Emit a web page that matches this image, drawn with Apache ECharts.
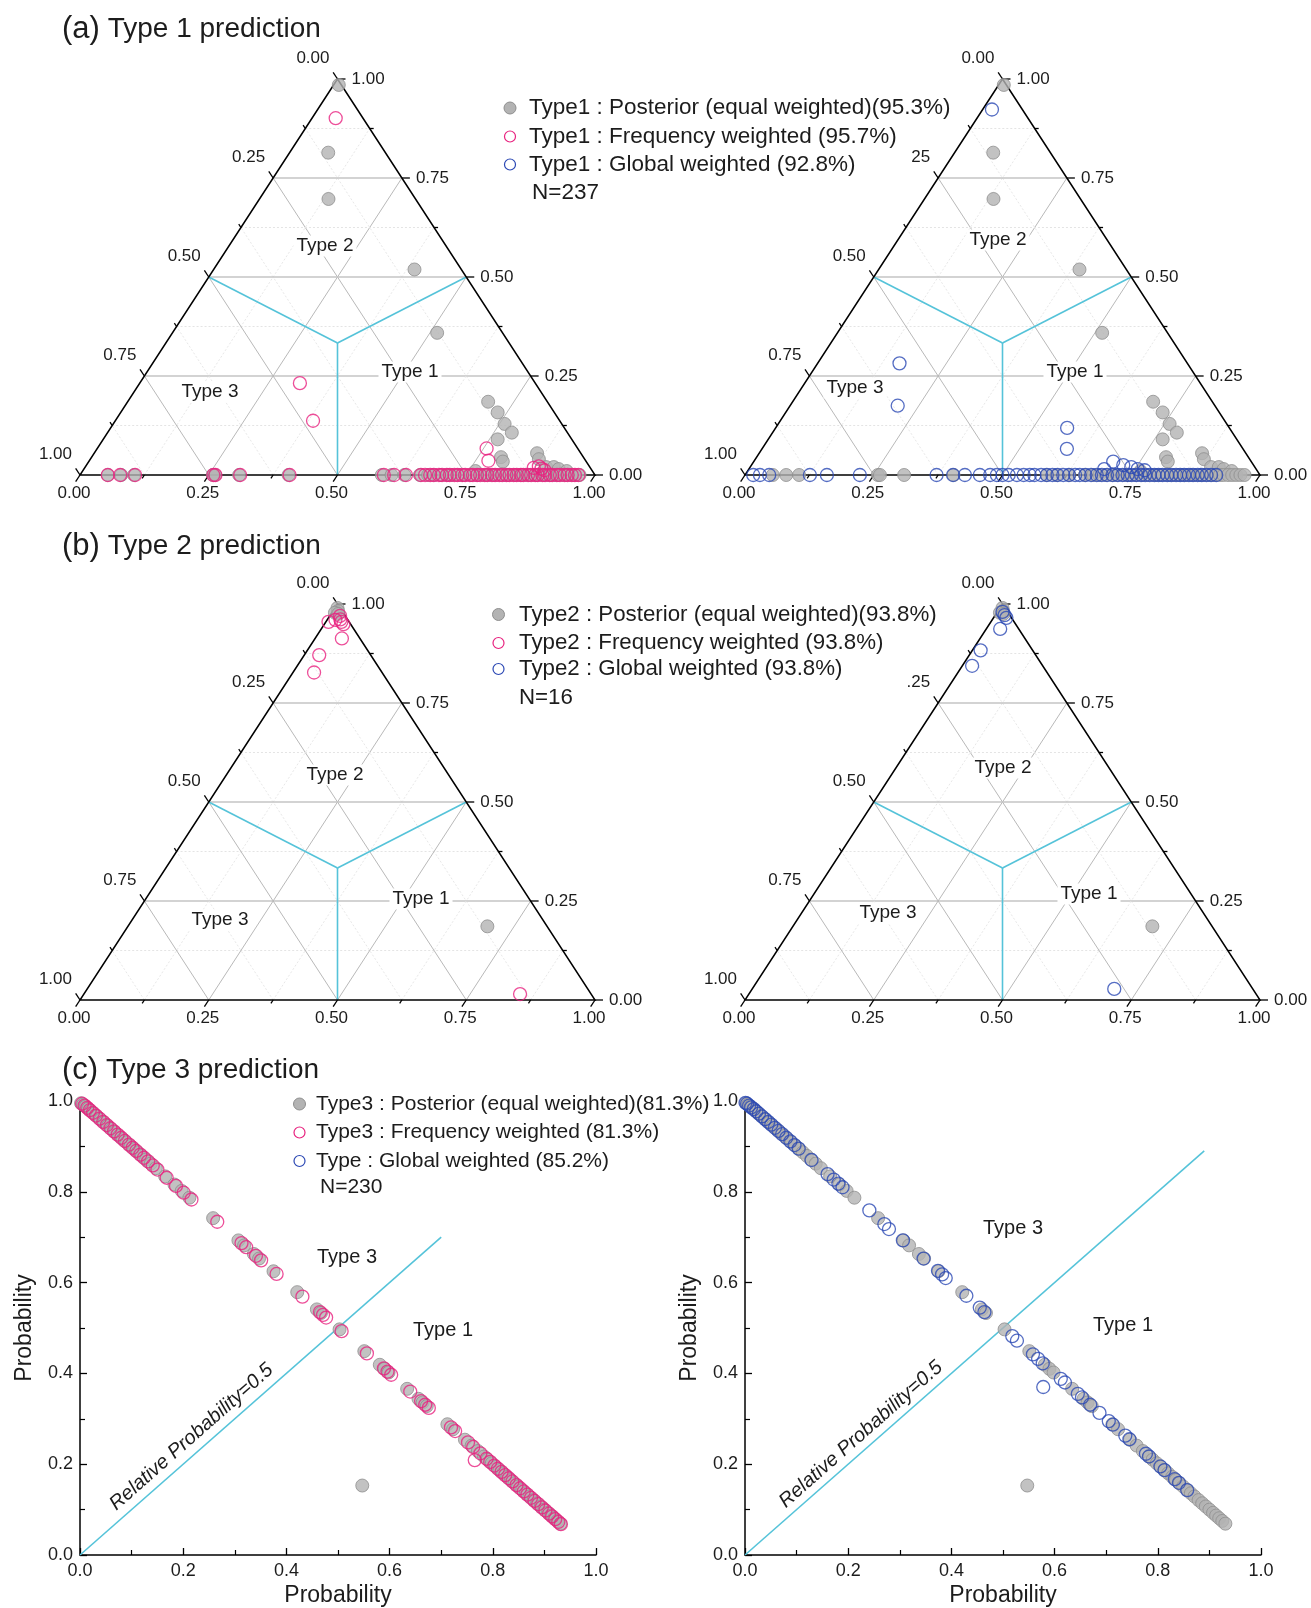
<!DOCTYPE html>
<html>
<head>
<meta charset="utf-8">
<title>Type prediction probabilities</title>
<script src="https://cdn.jsdelivr.net/npm/echarts@6/dist/echarts.min.js"></script>
<style>
  html, body { margin: 0; padding: 0; background: #fff; }
  #chart { width: 1311px; height: 1608px; }
</style>
</head>
<body>
<div id="chart"></div>
<script>
// ---------------------------------------------------------------------------
// Data
// Ternary points are [Type 1, Type 2] probabilities; Type 3 is the remainder.
// ---------------------------------------------------------------------------
const type1Posterior = [
  [0.010, 0.985], [0.075, 0.814], [0.134, 0.697], [0.390, 0.519], [0.514, 0.359],
  [0.700, 0.185], [0.732, 0.158], [0.760, 0.129], [0.785, 0.107], [0.766, 0.090],
  [0.795, 0.045], [0.804, 0.034], [0.860, 0.055], [0.871, 0.040], [0.895, 0.020],
  [0.910, 0.020], [0.763, 0.010], [0.922, 0.015], [0.940, 0.010],
  [0.054, 0], [0.080, 0], [0.105, 0], [0.258, 0], [0.262, 0], [0.309, 0], [0.405, 0],
  [0.586, 0], [0.605, 0], [0.630, 0], [0.660, 0], [0.676, 0], [0.688, 0], [0.701, 0],
  [0.713, 0], [0.722, 0], [0.736, 0], [0.747, 0], [0.759, 0], [0.771, 0], [0.782, 0],
  [0.793, 0], [0.801, 0], [0.809, 0], [0.819, 0], [0.827, 0], [0.834, 0], [0.843, 0],
  [0.851, 0], [0.858, 0], [0.867, 0], [0.874, 0], [0.883, 0], [0.889, 0], [0.898, 0],
  [0.906, 0], [0.913, 0], [0.922, 0], [0.929, 0], [0.938, 0], [0.946, 0], [0.954, 0],
  [0.962, 0], [0.970, 0]
];
const type1Frequency = [
  [0.046, 0.901], [0.311, 0.232], [0.384, 0.137], [0.756, 0.067], [0.775, 0.036],
  [0.872, 0.018], [0.880, 0.022], [0.888, 0.016], [0.896, 0.012],
  [0.054, 0], [0.078, 0], [0.107, 0], [0.259, 0], [0.263, 0], [0.311, 0], [0.407, 0],
  [0.590, 0], [0.610, 0], [0.633, 0], [0.662, 0], [0.670, 0], [0.680, 0], [0.687, 0],
  [0.697, 0], [0.703, 0], [0.712, 0], [0.718, 0], [0.727, 0], [0.733, 0], [0.742, 0],
  [0.748, 0], [0.757, 0], [0.763, 0], [0.771, 0], [0.777, 0], [0.786, 0], [0.791, 0],
  [0.800, 0], [0.806, 0], [0.814, 0], [0.820, 0], [0.828, 0], [0.834, 0], [0.842, 0],
  [0.848, 0], [0.856, 0], [0.861, 0], [0.870, 0], [0.876, 0], [0.884, 0], [0.889, 0],
  [0.898, 0], [0.903, 0], [0.912, 0], [0.917, 0], [0.926, 0], [0.932, 0], [0.941, 0],
  [0.947, 0], [0.955, 0], [0.961, 0], [0.968, 0]
];
const type1Global = [
  [0.018, 0.923], [0.159, 0.282], [0.209, 0.175], [0.566, 0.119], [0.592, 0.066],
  [0.698, 0.034], [0.722, 0.025], [0.740, 0.020], [0.690, 0.015], [0.755, 0.015],
  [0.770, 0.012],
  [0.016, 0], [0.029, 0], [0.047, 0], [0.126, 0], [0.159, 0], [0.223, 0], [0.372, 0],
  [0.404, 0], [0.427, 0], [0.456, 0], [0.476, 0], [0.489, 0], [0.500, 0], [0.512, 0],
  [0.528, 0], [0.541, 0], [0.553, 0], [0.562, 0], [0.575, 0], [0.586, 0], [0.597, 0],
  [0.607, 0], [0.618, 0], [0.629, 0], [0.641, 0], [0.650, 0], [0.661, 0], [0.672, 0],
  [0.683, 0], [0.693, 0], [0.703, 0], [0.714, 0], [0.724, 0], [0.733, 0], [0.743, 0],
  [0.751, 0], [0.760, 0], [0.769, 0], [0.777, 0], [0.786, 0], [0.795, 0], [0.803, 0],
  [0.811, 0], [0.820, 0], [0.828, 0], [0.837, 0], [0.845, 0], [0.853, 0], [0.862, 0],
  [0.870, 0], [0.879, 0], [0.887, 0], [0.896, 0], [0.905, 0], [0.915, 0]
];

const type2Posterior = [
  [0.005, 0.990], [0.010, 0.982], [0.006, 0.978], [0.014, 0.975], [0.698, 0.186]
];
const type2Frequency = [
  [0.016, 0.960], [0.025, 0.961], [0.037, 0.949], [0.005, 0.955], [0.020, 0.970],
  [0.030, 0.955], [0.052, 0.913], [0.029, 0.871], [0.041, 0.827], [0.847, 0.015]
];
const type2Global = [
  [0.010, 0.980], [0.018, 0.972], [0.025, 0.965], [0.027, 0.937], [0.016, 0.883],
  [0.019, 0.844], [0.703, 0.028]
];

// Type 3 points are [Type 1 probability, Type 3 probability]
const type3Posterior = [
  [0.002, 0.995], [0.006, 0.992], [0.011, 0.988], [0.016, 0.983], [0.021, 0.978],
  [0.027, 0.972], [0.033, 0.966], [0.040, 0.959], [0.047, 0.952], [0.054, 0.945],
  [0.061, 0.938], [0.068, 0.931], [0.076, 0.923], [0.083, 0.916], [0.090, 0.909],
  [0.098, 0.901], [0.105, 0.894], [0.112, 0.887], [0.120, 0.879], [0.128, 0.871],
  [0.137, 0.862], [0.147, 0.852], [0.165, 0.834], [0.183, 0.816], [0.197, 0.802],
  [0.212, 0.787], [0.258, 0.742], [0.307, 0.693], [0.318, 0.682], [0.337, 0.663],
  [0.347, 0.653], [0.375, 0.625], [0.421, 0.579], [0.459, 0.541], [0.467, 0.533],
  [0.503, 0.497], [0.551, 0.449], [0.581, 0.419], [0.590, 0.410], [0.598, 0.402],
  [0.634, 0.366], [0.656, 0.344], [0.664, 0.336], [0.672, 0.328], [0.712, 0.288],
  [0.723, 0.277], [0.746, 0.254], [0.759, 0.241], [0.771, 0.229], [0.783, 0.217],
  [0.790, 0.210], [0.798, 0.202], [0.806, 0.194], [0.813, 0.187], [0.820, 0.180],
  [0.828, 0.172], [0.835, 0.165], [0.842, 0.158], [0.849, 0.151], [0.857, 0.143],
  [0.864, 0.136], [0.871, 0.129], [0.879, 0.121], [0.886, 0.114], [0.893, 0.107],
  [0.900, 0.100], [0.907, 0.093], [0.913, 0.087], [0.919, 0.081], [0.925, 0.075],
  [0.931, 0.069], [0.547, 0.153]
];
const type3Frequency = [
  [0.004, 0.994], [0.009, 0.990], [0.014, 0.985], [0.019, 0.980], [0.025, 0.974],
  [0.031, 0.968], [0.038, 0.961], [0.045, 0.954], [0.052, 0.947], [0.059, 0.940],
  [0.066, 0.933], [0.073, 0.926], [0.080, 0.919], [0.087, 0.912], [0.095, 0.904],
  [0.102, 0.897], [0.109, 0.890], [0.117, 0.882], [0.124, 0.875], [0.132, 0.867],
  [0.141, 0.858], [0.150, 0.849], [0.168, 0.831], [0.186, 0.813], [0.201, 0.798],
  [0.216, 0.783], [0.266, 0.734], [0.313, 0.687], [0.322, 0.678], [0.341, 0.659],
  [0.351, 0.649], [0.381, 0.619], [0.431, 0.569], [0.465, 0.535], [0.471, 0.529],
  [0.477, 0.523], [0.507, 0.493], [0.556, 0.444], [0.589, 0.411], [0.596, 0.404],
  [0.603, 0.397], [0.640, 0.360], [0.661, 0.339], [0.669, 0.331], [0.676, 0.324],
  [0.719, 0.281], [0.727, 0.273], [0.752, 0.248], [0.762, 0.238], [0.765, 0.209],
  [0.776, 0.224], [0.788, 0.212], [0.795, 0.205], [0.803, 0.197], [0.810, 0.190],
  [0.817, 0.183], [0.824, 0.176], [0.831, 0.169], [0.838, 0.162], [0.846, 0.154],
  [0.853, 0.147], [0.860, 0.140], [0.867, 0.133], [0.874, 0.126], [0.881, 0.119],
  [0.888, 0.112], [0.895, 0.105], [0.902, 0.098], [0.909, 0.091], [0.915, 0.085],
  [0.921, 0.079], [0.927, 0.073], [0.932, 0.068]
];
const type3Global = [
  [0.001, 0.996], [0.004, 0.994], [0.008, 0.990], [0.012, 0.986], [0.017, 0.982],
  [0.022, 0.977], [0.027, 0.972], [0.033, 0.966], [0.039, 0.960], [0.045, 0.954],
  [0.051, 0.948], [0.058, 0.941], [0.065, 0.934], [0.072, 0.927], [0.080, 0.919],
  [0.088, 0.911], [0.096, 0.903], [0.104, 0.895], [0.129, 0.870], [0.160, 0.839],
  [0.172, 0.827], [0.181, 0.818], [0.189, 0.810], [0.241, 0.759], [0.270, 0.729],
  [0.279, 0.718], [0.306, 0.693], [0.346, 0.653], [0.374, 0.626], [0.382, 0.618],
  [0.389, 0.610], [0.429, 0.571], [0.455, 0.545], [0.464, 0.535], [0.518, 0.482],
  [0.527, 0.472], [0.558, 0.442], [0.568, 0.432], [0.577, 0.422], [0.578, 0.370],
  [0.612, 0.388], [0.620, 0.380], [0.645, 0.355], [0.653, 0.347], [0.669, 0.331],
  [0.687, 0.313], [0.705, 0.295], [0.713, 0.287], [0.737, 0.263], [0.745, 0.255],
  [0.777, 0.223], [0.783, 0.217], [0.805, 0.195], [0.813, 0.187], [0.833, 0.167],
  [0.841, 0.159], [0.857, 0.143]
];

// Ternary axis ticks (labels only on the major ones)
const ternaryTicks = [0, 0.125, 0.25, 0.375, 0.5, 0.625, 0.75, 0.875, 1];
const ternaryTickLabels = ['0.00', '', '0.25', '', '0.50', '', '0.75', '', '1.00'];
// End of the "relative probability = 0.5" boundary in each Type 3 panel
const boundaryEnds = [0.70, 0.89];

// Panel titles, legends and annotation texts
const panelLetters = ['(a)', '(b)', '(c)'];
const panelTitles = ['Type 1 prediction', 'Type 2 prediction', 'Type 3 prediction'];
const legendA = ['Type1 : Posterior (equal weighted)(95.3%)', 'Type1 : Frequency weighted (95.7%)', 'Type1 : Global weighted (92.8%)'];
const legendB = ['Type2 : Posterior (equal weighted)(93.8%)', 'Type2 : Frequency weighted (93.8%)', 'Type2 : Global weighted (93.8%)'];
const legendC = ['Type3 : Posterior (equal weighted)(81.3%)', 'Type3 : Frequency weighted (81.3%)', 'Type : Global weighted (85.2%)'];
const sampleCounts = ['N=237', 'N=16', 'N=230'];
const regionNames = ['Type 1', 'Type 2', 'Type 3'];
const boundaryText = 'Relative Probability=0.5';
const axisName = 'Probability';

// ---------------------------------------------------------------------------
// Layout and styles
// ---------------------------------------------------------------------------
const FONT = '"Liberation Sans", Arial, Helvetica, sans-serif';
const INK = '#1c1c1c';
const GRAY = '#b3b3b3', GRAY_EDGE = '#8e8e8e';
const PINK = '#e8227f', BLUE = '#2b48b4', CYAN = '#55c3d9';

const panels = [
  { left: 80,  top: 79,   width: 515, height: 396 },  // (a) left
  { left: 745, top: 79,   width: 515, height: 396 },  // (a) right
  { left: 80,  top: 604,  width: 515, height: 396 },  // (b) left
  { left: 745, top: 604,  width: 515, height: 396 },  // (b) right
  { left: 80,  top: 1101, width: 516, height: 456 },  // (c) left
  { left: 745, top: 1101, width: 516, height: 456 }   // (c) right
];

const markStyles = {
  gray: { symbolSize: 13, itemStyle: { color: GRAY, borderColor: GRAY_EDGE, borderWidth: 1 } },
  pink: { symbolSize: 13, itemStyle: { color: 'rgba(255,255,255,0)', borderColor: PINK, borderWidth: 1.3 } },
  blue: { symbolSize: 13, itemStyle: { color: 'rgba(255,255,255,0)', borderColor: BLUE, borderWidth: 1.3 } }
};

// [Type1, Type2] -> cartesian position inside the triangle (Type 2 at the apex)
const toTernaryXY = d => [d[0] + d[1] / 2, d[1]];

// Draws the triangle, grid, boundary lines, ticks and tick labels
function renderTernaryFrame(params, api) {
  const idx = params.dataIndex;
  const v = api.value(0);
  const label = ternaryTickLabels[idx];
  const major = label !== '';
  const P = (x, y) => api.coord([x, y]);
  const o = P(0, 0), r = P(1, 0), t = P(0.5, 1);
  const halfW = (r[0] - o[0]) / 2, H = o[1] - t[1];
  const L = Math.hypot(halfW, H);
  const upLeft = [-halfW / L, -H / L];
  const downLeft = [-halfW / L, H / L];
  const kids = [];
  const seg = (a, b, style, z2) => kids.push({
    type: 'line', z2: z2 || 1,
    shape: { x1: a[0], y1: a[1], x2: b[0], y2: b[1] }, style: style
  });

  if (v > 0 && v < 1) {
    const hStyle = major ? { stroke: '#c4c4c4', lineWidth: 1.6 }
                         : { stroke: '#e4e4e4', lineWidth: 1, lineDash: [2, 2] };
    const dStyle = major ? { stroke: '#b9b9b9', lineWidth: 1 }
                         : { stroke: '#e8e8e8', lineWidth: 1, lineDash: [2, 2] };
    seg(P(v / 2, v), P(1 - v / 2, v), hStyle);          // Type 2 = v
    seg(P(v, 0), P((1 + v) / 2, 1 - v), dStyle);        // Type 1 = v
    seg(P(1 - v, 0), P((1 - v) / 2, 1 - v), dStyle);    // Type 3 = v
  }

  const tl = major ? 8 : 4;
  const tickStyle = { stroke: '#000', lineWidth: 1.3 };
  const pb = P(v, 0), pr = P(1 - v / 2, v), pl = P((1 - v) / 2, 1 - v);
  seg(pb, [pb[0] + downLeft[0] * tl, pb[1] + downLeft[1] * tl], tickStyle, 20);
  seg(pl, [pl[0] + upLeft[0] * tl, pl[1] + upLeft[1] * tl], tickStyle, 20);
  seg(pr, [pr[0] + tl, pr[1]], tickStyle, 20);

  if (major) {
    const txt = (x, y, align, va) => kids.push({
      type: 'text', x: x, y: y, z2: 30,
      style: { text: label, fill: INK, font: '17px ' + FONT, align: align, verticalAlign: va }
    });
    txt(pb[0] - 6, pb[1] + 18, 'center', 'middle');
    txt(pl[0] - 8, pl[1] - 12, 'right', 'bottom');
    txt(pr[0] + 14, pr[1], 'left', 'middle');
  }

  if (idx === 0) {
    const c = P(0.5, 1 / 3);
    const cy = { stroke: CYAN, lineWidth: 1.6 };
    seg(c, P(0.5, 0), cy, 10);
    seg(c, P(0.25, 0.5), cy, 10);
    seg(c, P(0.75, 0.5), cy, 10);
    kids.push({
      type: 'polygon', z2: 20,
      shape: { points: [o, r, t] },
      style: { fill: 'none', stroke: '#000', lineWidth: 1.5 }
    });
  }
  return { type: 'group', children: kids };
}

// ---------------------------------------------------------------------------
// Axes
// ---------------------------------------------------------------------------
const grids = panels.map(p => ({ left: p.left, top: p.top, width: p.width, height: p.height }));

function probAxis(gridIndex, isY) {
  return {
    gridIndex: gridIndex, type: 'value', min: 0, max: 1, interval: 0.2,
    axisLine: { show: true, onZero: false, lineStyle: { color: '#000', width: 1.5 } },
    axisTick: { show: true, inside: true, length: 7, lineStyle: { color: '#000', width: 1.3 } },
    minorTick: { show: true, splitNumber: 2, length: 5, lineStyle: { color: '#000', width: 1.2 } },
    axisLabel: { formatter: val => val.toFixed(1), fontSize: 18, color: INK, fontFamily: FONT, margin: 7 },
    splitLine: { show: false },
    name: axisName, nameLocation: 'middle', nameGap: isY ? 44 : 29,
    nameTextStyle: { fontSize: 23, color: INK, fontFamily: FONT }
  };
}
const hiddenAxis = gridIndex => ({ gridIndex: gridIndex, type: 'value', min: 0, max: 1, show: false });

const xAxes = [0, 1, 2, 3].map(hiddenAxis).concat([probAxis(4, false), probAxis(5, false)]);
const yAxes = [0, 1, 2, 3].map(hiddenAxis).concat([probAxis(4, true), probAxis(5, true)]);

// ---------------------------------------------------------------------------
// Series
// ---------------------------------------------------------------------------
const series = [];

function scatter(grid, name, data, style, z) {
  series.push(Object.assign({
    type: 'scatter', name: name, xAxisIndex: grid, yAxisIndex: grid,
    symbol: 'circle', data: data, z: z, clip: false, silent: true
  }, style));
}

const ternarySets = [
  { grid: 0, sets: [[type1Posterior, 'gray', legendA[0]], [type1Frequency, 'pink', legendA[1]]] },
  { grid: 1, sets: [[type1Posterior, 'gray', legendA[0]], [type1Global, 'blue', legendA[2]]] },
  { grid: 2, sets: [[type2Posterior, 'gray', legendB[0]], [type2Frequency, 'pink', legendB[1]]] },
  { grid: 3, sets: [[type2Posterior, 'gray', legendB[0]], [type2Global, 'blue', legendB[2]]] }
];

ternarySets.forEach(panel => {
  series.push({
    type: 'custom', xAxisIndex: panel.grid, yAxisIndex: panel.grid,
    data: ternaryTicks.map((tv, i) => [tv, i]),
    renderItem: renderTernaryFrame, z: 1, silent: true, clip: false
  });
  panel.sets.forEach((s, k) => scatter(panel.grid, s[2], s[0].map(toTernaryXY), markStyles[s[1]], 3 + k));
});

[
  { grid: 4, end: boundaryEnds[0], sets: [[type3Posterior, 'gray', legendC[0]], [type3Frequency, 'pink', legendC[1]]] },
  { grid: 5, end: boundaryEnds[1], sets: [[type3Posterior, 'gray', legendC[0]], [type3Global, 'blue', legendC[2]]] }
].forEach(panel => {
  series.push({
    type: 'line', xAxisIndex: panel.grid, yAxisIndex: panel.grid,
    data: [[0, 0], [panel.end, panel.end]], symbol: 'none', silent: true, z: 2,
    lineStyle: { color: CYAN, width: 1.6 }
  });
  panel.sets.forEach((s, k) => scatter(panel.grid, s[2], s[0], markStyles[s[1]], 3 + k));
});

// ---------------------------------------------------------------------------
// Titles, legends and annotations
// ---------------------------------------------------------------------------
const graphics = [];

[29, 546, 1070].forEach((y, i) => graphics.push({
  type: 'text', x: 62, y: y, z: 60,
  style: {
    text: '{l|' + panelLetters[i] + '} ' + panelTitles[i],
    font: '28px ' + FONT, fill: INK, verticalAlign: 'middle',
    rich: { l: { fontSize: 31, fontFamily: FONT, fill: INK } }
  }
}));

function legendBlock(names, count, mx, tx, ys, nx, fontPx, thirdColor) {
  const font = fontPx + 'px ' + FONT;
  const swatches = [
    { fill: GRAY, stroke: GRAY_EDGE, lineWidth: 1 },
    { fill: 'none', stroke: PINK, lineWidth: 1.2 },
    { fill: 'none', stroke: thirdColor, lineWidth: 1.2 }
  ];
  names.forEach((nm, i) => {
    graphics.push({ type: 'circle', z: 62, shape: { cx: mx, cy: ys[i], r: i === 0 ? 6 : 5.5 }, style: swatches[i] });
    graphics.push({
      type: 'text', x: tx, y: ys[i], z: 62,
      style: { text: nm, font: font, fill: INK, verticalAlign: 'middle' }
    });
  });
  graphics.push({
    type: 'text', x: nx, y: ys[3], z: 62,
    style: { text: count, font: font, fill: INK, verticalAlign: 'middle' }
  });
}

// Legend backdrops: white panels behind the legend text of rows (a) and (b)
function leftLabelRight(p, v) { return p.left + (1 - v) / 2 * p.width - 8; }
const tickFontPx = 17, digitW = 0.556 * tickFontPx, dotW = 0.278 * tickFontPx;
graphics.push({
  type: 'rect', z: 55, style: { fill: '#fff' },
  shape: { x: 500, y: 92, width: leftLabelRight(panels[1], 0.25) - 2 * digitW - 500, height: 113 }
});
graphics.push({
  type: 'rect', z: 55, style: { fill: '#fff' },
  shape: { x: 488, y: 600, width: leftLabelRight(panels[3], 0.25) - 2 * digitW - dotW - 488, height: 110 }
});

legendBlock(legendA, sampleCounts[0], 510, 529, [108, 136.5, 164.5, 192.5], 532, 22.5, BLUE);
legendBlock(legendB, sampleCounts[1], 498.5, 519, [614.5, 643, 669, 697.5], 519, 22.3, BLUE);
legendBlock(legendC, sampleCounts[2], 299.5, 316, [1104, 1132.5, 1161, 1187], 320, 21, BLUE);

// Region names inside the ternary plots ([text index, x, y])
const regionSpots = [
  [1, 325, 246], [0, 410, 372], [2, 210, 392],
  [1, 998, 240], [0, 1075, 372], [2, 855, 388],
  [1, 335, 775], [0, 421, 899], [2, 220, 920],
  [1, 1003, 768], [0, 1089, 894], [2, 888, 913]
];
regionSpots.forEach(s => graphics.push({
  type: 'text', x: s[1], y: s[2], z: 58,
  style: {
    text: regionNames[s[0]], font: '19px ' + FONT, fill: INK,
    align: 'center', verticalAlign: 'middle', backgroundColor: '#fff', padding: [1, 3]
  }
}));

// Region names in the Type 3 panels
[[2, 347, 1257], [0, 443, 1330], [2, 1013, 1228], [0, 1123, 1325]].forEach(s => graphics.push({
  type: 'text', x: s[1], y: s[2], z: 58,
  style: { text: regionNames[s[0]], font: '20px ' + FONT, fill: INK, align: 'center', verticalAlign: 'middle' }
}));

// Boundary label, rotated along the diagonal of each Type 3 panel
[[panels[4], 163, 16], [panels[5], 168, 15]].forEach(([p, along, off]) => {
  const ang = Math.atan2(p.height, p.width);
  const ox = p.left, oy = p.top + p.height;
  const x = ox + Math.cos(ang) * along - Math.sin(ang) * off;
  const y = oy - Math.sin(ang) * along - Math.cos(ang) * off;
  graphics.push({
    type: 'text', x: x, y: y, rotation: ang, z: 58,
    style: { text: boundaryText, font: 'italic 20px ' + FONT, fill: INK, align: 'center', verticalAlign: 'middle' }
  });
});

// ---------------------------------------------------------------------------
const chart = echarts.init(document.getElementById('chart'), null, { renderer: 'canvas' });
chart.setOption({
  animation: false,
  backgroundColor: '#fff',
  textStyle: { fontFamily: FONT },
  grid: grids,
  xAxis: xAxes,
  yAxis: yAxes,
  series: series,
  graphic: { elements: graphics }
});
</script>
</body>
</html>
